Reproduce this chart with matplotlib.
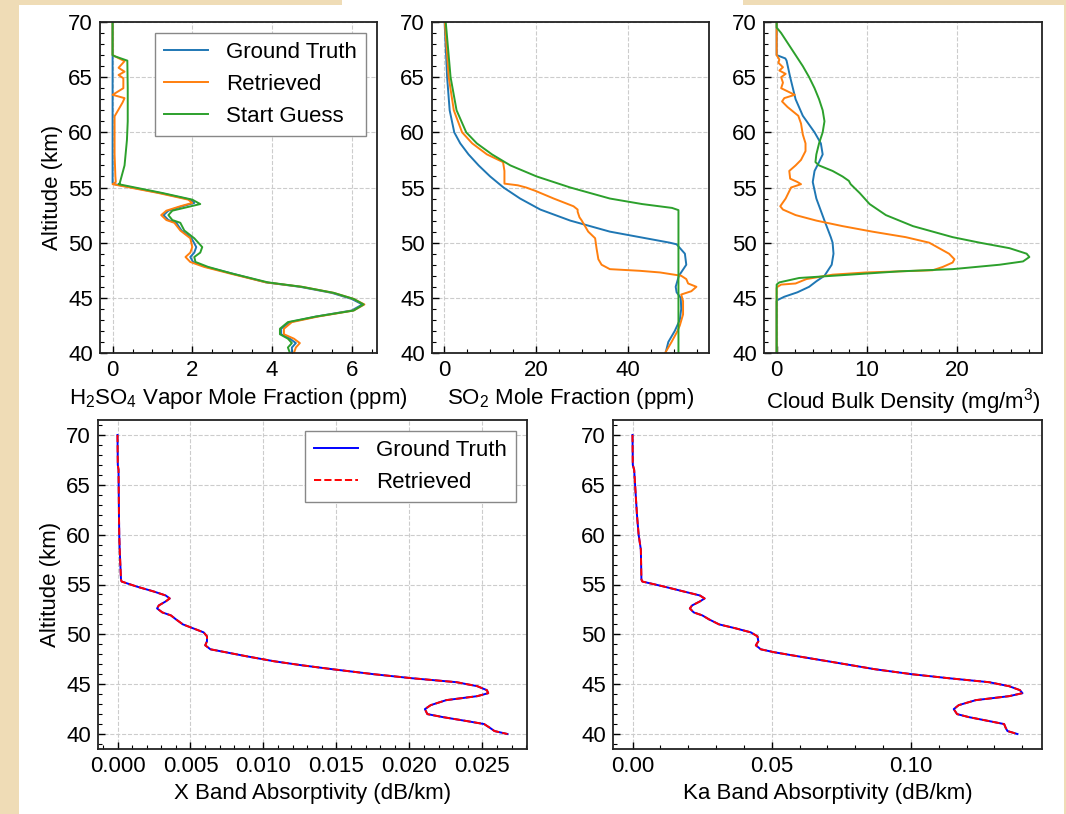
import matplotlib
matplotlib.use("Agg")
import matplotlib.pyplot as plt
from matplotlib.patches import Rectangle
from matplotlib.ticker import AutoMinorLocator, FormatStrFormatter

plt.rcParams['font.family'] = ['Liberation Sans', 'DejaVu Sans']
plt.rcParams['mathtext.default'] = 'regular'
plt.rcParams['font.size'] = 16

# --- H2SO4 vapour (ppm) ---
alt_h2so4_gt = [70.0, 55.4, 55.3, 54.5, 53.9, 53.6, 53.3, 52.9, 52.5, 52.05, 51.8, 51.1, 50.4, 49.6, 49.1,
                48.7, 48.25, 47.8, 47.2, 46.4, 46.0, 45.45, 44.9, 44.4, 43.85, 43.3, 42.8, 42.2, 41.7, 41.3,
                40.9, 40.5, 40.0]
h2so4_gt = [0.0, 0.0, 0.05, 1.2, 1.95, 2.05, 1.75, 1.4, 1.28, 1.4, 1.6, 1.73, 1.98, 2.1, 2.05,
            1.95, 2.02, 2.35, 3.0, 3.85, 4.7, 5.5, 6.0, 6.27, 6.0, 5.1, 4.45, 4.23, 4.23, 4.45,
            4.6, 4.5, 4.5]
alt_h2so4_ret = [70.0, 67.0, 66.45, 65.85, 65.5, 65.2, 64.9, 64.0, 63.4, 63.1, 62.7, 61.45, 58.0, 56.0,
                 55.5, 55.3, 54.5, 53.9, 53.6, 53.3, 52.9, 52.5, 52.05, 51.8, 51.1, 50.4, 49.6, 49.1,
                 48.7, 48.25, 47.8, 47.2, 46.4, 46.0, 45.45, 44.9, 44.4, 43.85, 43.3, 42.8, 42.2, 41.7,
                 41.3, 40.9, 40.5, 40.0]
h2so4_ret = [0.0, 0.0, 0.3, 0.15, 0.3, 0.15, 0.27, 0.27, 0.0, 0.3, 0.25, 0.05, 0.05, 0.07,
             0.08, 0.0, 1.15, 1.9, 2.0, 1.7, 1.35, 1.22, 1.35, 1.55, 1.7, 1.95, 2.0, 1.95,
             1.83, 1.95, 2.3, 2.95, 3.85, 4.75, 5.55, 6.05, 6.32, 6.05, 5.15, 4.5, 4.3, 4.3,
             4.55, 4.7, 4.6, 4.55]
alt_h2so4_sg = [70.0, 67.0, 66.9, 66.5, 64.0, 61.0, 59.3, 57.0, 55.4, 55.3, 54.5, 53.9, 53.5, 53.2,
                52.9, 52.5, 52.05, 51.8, 51.1, 50.4, 49.6, 49.1, 48.7, 48.25, 47.8, 47.2, 46.4, 46.0,
                45.45, 44.9, 44.4, 43.85, 43.3, 42.8, 42.2, 41.7, 41.3, 40.9, 40.5, 40.0]
h2so4_sg = [0.0, 0.0, 0.05, 0.37, 0.38, 0.38, 0.36, 0.3, 0.18, 0.15, 1.25, 2.0, 2.2, 1.85,
            1.5, 1.4, 1.5, 1.7, 1.8, 2.05, 2.25, 2.2, 2.05, 2.08, 2.4, 3.0, 3.9, 4.75,
            5.55, 6.05, 6.3, 6.05, 5.1, 4.4, 4.2, 4.2, 4.4, 4.5, 4.4, 4.45]

# --- SO2 (ppm) ---
alt_so2_gt = [70, 65, 62, 60, 59, 58, 57, 56, 55, 54, 53, 52, 51, 50.5, 50.0, 49.85, 49.0, 48.0,
              47.0, 46.0, 45.5, 45.0, 44.0, 43.0, 42.0, 41.0, 40.0]
so2_gt = [0.1, 0.65, 1.2, 2.2, 3.5, 5.3, 7.5, 10.0, 12.9, 16.5, 20.9, 27.4, 36.0, 42.5, 49.0, 50.5,
          52.3, 52.6, 51.0, 50.3, 50.5, 51.4, 51.5, 51.2, 50.1, 48.7, 48.1]
alt_so2_ret = [70, 65, 62, 60, 59, 58, 57.5, 57.3, 56.5, 55.35, 55.2, 55.0, 54.7, 54.0, 53.3, 53.0,
               52.8, 52.3, 52.0, 51.0, 50.4, 49.5, 48.5, 48.0, 47.6, 47.45, 47.3, 47.0, 46.7, 46.3,
               46.0, 45.6, 45.3, 44.7, 43.5, 42.5, 42.0, 41.0, 40.0]
so2_ret = [0.15, 1.0, 2.1, 3.9, 6.1, 9.3, 11.8, 12.8, 13.1, 13.1, 16.0, 17.8, 19.8, 23.8, 28.1, 29.0,
           29.0, 29.4, 29.9, 31.3, 32.8, 33.1, 33.5, 34.2, 36.0, 42.5, 46.9, 51.5, 52.6, 53.0,
           54.8, 53.7, 51.5, 51.9, 51.9, 51.2, 50.7, 49.4, 48.0]
alt_so2_sg = [70, 65, 62, 60, 59, 58, 57, 56, 55, 54, 53.5, 53.15, 52.95, 40.0]
so2_sg = [0.35, 1.4, 2.7, 4.8, 7.1, 10.4, 14.4, 20.1, 27.4, 36.0, 43.0, 49.5, 50.9, 50.9]

# --- cloud bulk density (mg/m3) ---
alt_cloud_gt = [70, 67.0, 66.7, 66.5, 65, 63, 61.5, 60, 59, 58, 57.3, 56.5, 55.5, 54, 52, 50.5, 50,
                49, 48, 47, 46.5, 46, 45.5, 45.1, 44.8, 44.7, 40]
cloud_gt = [0, 0, 0.96, 1.1, 1.5, 2.1, 2.9, 4.2, 4.9, 5.1, 4.7, 4.2, 4.0, 4.4, 5.3, 6.0, 6.2,
            6.3, 6.1, 5.3, 4.4, 3.6, 2.3, 0.85, 0.1, 0, 0]
alt_cloud_ret = [70, 67.0, 66.6, 66.3, 65.9, 65.6, 65.3, 65.0, 64.5, 64.0, 63.4, 63.1, 62.8, 62.3,
                 61.5, 60.8, 59.8, 59.0, 58.3, 57.5, 57.0, 56.5, 55.8, 55.5, 55.3, 55.0, 54.0, 53.3,
                 53.0, 52.5, 52.0, 51.5, 51.0, 50.5, 50.0, 49.5, 49.0, 48.5, 48.2, 47.8, 47.5, 47.3,
                 47.1, 46.7, 46.3, 46.2, 46.0, 45.9, 40]
cloud_ret = [0, 0, 0.3, 0.2, 0.7, 0.3, 1.0, 0.5, 0.7, 0.5, 2.0, 0.85, 0.6, 1.2,
             2.4, 2.7, 2.9, 3.2, 3.2, 2.7, 2.1, 1.4, 1.5, 2.3, 2.7, 1.6, 1.0, 0.4,
             0.7, 2.1, 4.4, 7.3, 10.6, 14.3, 16.9, 18.0, 19.1, 19.7, 19.5, 18.4, 17.3, 9.9,
             6.2, 3.3, 2.1, 0.5, 0.1, 0, 0]
alt_cloud_sg = [70, 69.5, 69, 68, 67, 66, 65, 64, 63, 62, 61, 60, 59, 58, 57.3, 57.0, 56.5, 56.0,
                55.6, 55.3, 54.5, 53.5, 52.5, 51.5, 50.5, 50.0, 49.5, 49.0, 48.7, 48.3, 48.0, 47.6,
                47.4, 47.1, 46.8, 46.4, 46.2, 40]
cloud_sg = [0, 0, 0.5, 1.3, 2.1, 2.9, 3.6, 4.2, 4.7, 5.1, 5.3, 5.1, 4.7, 4.4, 4.3, 4.7, 6.2, 7.3,
            8.0, 8.2, 9.2, 10.3, 12.1, 15.1, 19.5, 22.5, 25.8, 27.7, 28.0, 27.3, 24.7, 19.5,
            13.6, 8.1, 2.5, 0.3, 0, 0]

# --- absorptivity (dB/km) ---
alt_abs = [70.0, 67.0, 66.5, 62.0, 60.0, 58.5, 55.5, 55.3, 54.8, 54.3, 53.9, 53.6, 53.3, 52.9, 52.6,
           52.2, 51.9, 51.5, 51.0, 50.6, 50.2, 49.8, 49.3, 48.9, 48.5, 48.2, 47.8, 47.3, 46.9, 46.5,
           46.0, 45.6, 45.2, 44.8, 44.4, 44.1, 43.8, 43.4, 42.9, 42.5, 42.0, 41.7, 41.3, 41.0, 40.6,
           40.3, 40.0]
xband = [0.0, 0.00002, 0.00007, 0.0001, 0.00012, 0.00015, 0.00024, 0.00028, 0.0013, 0.00248, 0.0033,
         0.00358, 0.0033, 0.00283, 0.00271, 0.00307, 0.00366, 0.00401, 0.00448, 0.00519, 0.0059,
         0.00613, 0.00613, 0.00601, 0.00637, 0.00743, 0.00884, 0.01073, 0.01262, 0.01474, 0.01757,
         0.02017, 0.02323, 0.02465, 0.02531, 0.0254, 0.02465, 0.02252, 0.02146, 0.02106, 0.02123,
         0.02229, 0.02394, 0.02512, 0.02554, 0.02583, 0.02672]
kaband = [0.0, 0.0001, 0.0006, 0.0016, 0.0022, 0.003, 0.0032, 0.0035, 0.0112, 0.0184, 0.0242,
          0.0259, 0.0242, 0.0214, 0.0206, 0.022, 0.0251, 0.0275, 0.0311, 0.0371, 0.0425,
          0.0449, 0.0452, 0.0443, 0.0461, 0.051, 0.0594, 0.0702, 0.0787, 0.0871, 0.1004,
          0.1136, 0.1281, 0.1353, 0.1392, 0.1401, 0.1353, 0.1233, 0.1172, 0.1154, 0.1166,
          0.1208, 0.1281, 0.1335, 0.1341, 0.1347, 0.1383]

W, H = 1066, 814
fig = plt.figure(figsize=(W / 100, H / 100), dpi=100)
fig.patch.set_facecolor('#efdcb6')
fig.patches.append(Rectangle((19 / W, 0), 1045 / W, 809 / H, transform=fig.transFigure,
                             facecolor='white', edgecolor='none', zorder=-10))
fig.patches.append(Rectangle((342 / W, 0.98), 401 / W, 0.02, transform=fig.transFigure,
                             facecolor='white', edgecolor='none', zorder=-10))


def make_ax(l, t, r, b):
    ax = fig.add_axes([l / W, 1 - b / H, (r - l) / W, (b - t) / H])
    ax.tick_params(which='both', direction='in', top=False, right=False, labelsize=16, pad=5)
    ax.tick_params(which='major', length=5, width=1)
    ax.tick_params(which='minor', length=3, width=0.8)
    ax.xaxis.set_minor_locator(AutoMinorLocator())
    ax.yaxis.set_minor_locator(AutoMinorLocator())
    ax.grid(True, which='major', linestyle='--', color='#cccccc', linewidth=0.8)
    ax.set_axisbelow(True)
    for s in ax.spines.values():
        s.set_linewidth(1.3)
        s.set_color('#222222')
    return ax


ax1 = make_ax(100, 22, 377, 353)
ax2 = make_ax(432, 22, 709, 353)
ax3 = make_ax(764, 22, 1042, 353)
ax4 = make_ax(98, 420, 527, 749)
ax5 = make_ax(613, 420, 1042, 749)

lw = 1.4
ax1.plot(h2so4_gt, alt_h2so4_gt, color='C0', lw=lw, label='Ground Truth')
ax1.plot(h2so4_ret, alt_h2so4_ret, color='C1', lw=lw, label='Retrieved')
ax1.plot(h2so4_sg, alt_h2so4_sg, color='C2', lw=lw, label='Start Guess')
ax1.set_xlabel(r'H$_2$SO$_4$ Vapor Mole Fraction (ppm)', fontsize=16)
ax1.set_ylabel('Altitude (km)', fontsize=16)
ax1.legend(loc='upper right', fontsize=16, fancybox=False, edgecolor='#888888', framealpha=1)

ax2.plot(so2_gt, alt_so2_gt, color='C0', lw=lw)
ax2.plot(so2_ret, alt_so2_ret, color='C1', lw=lw)
ax2.plot(so2_sg, alt_so2_sg, color='C2', lw=lw)
ax2.set_xlabel(r'SO$_2$ Mole Fraction (ppm)', fontsize=16)

ax3.plot(cloud_gt, alt_cloud_gt, color='C0', lw=lw)
ax3.plot(cloud_ret, alt_cloud_ret, color='C1', lw=lw)
ax3.plot(cloud_sg, alt_cloud_sg, color='C2', lw=lw)
ax3.set_xlabel(r'Cloud Bulk Density (mg/m$^3$)', fontsize=16)

for ax in (ax1, ax2, ax3):
    ax.set_ylim(40, 70)
    ax.set_yticks([40, 45, 50, 55, 60, 65, 70])

ax1.set_xticks([0, 2, 4, 6])
ax2.set_xticks([0, 20, 40])
ax3.set_xticks([0, 10, 20])

ax4.plot(xband, alt_abs, color='blue', lw=lw, label='Ground Truth')
ax4.plot(xband, alt_abs, color='red', lw=lw, ls='--', label='Retrieved')
ax4.set_xlabel('X Band Absorptivity (dB/km)', fontsize=16)
ax4.set_ylabel('Altitude (km)', fontsize=16)
ax4.legend(loc='upper right', fontsize=16, fancybox=False, edgecolor='#888888', framealpha=1)
ax4.set_xticks([0.0, 0.005, 0.01, 0.015, 0.02, 0.025])
ax4.xaxis.set_major_formatter(FormatStrFormatter('%.3f'))

ax5.plot(kaband, alt_abs, color='blue', lw=lw)
ax5.plot(kaband, alt_abs, color='red', lw=lw, ls='--')
ax5.set_xlabel('Ka Band Absorptivity (dB/km)', fontsize=16)
ax5.set_xticks([0.0, 0.05, 0.1])
ax5.xaxis.set_major_formatter(FormatStrFormatter('%.2f'))

for ax in (ax4, ax5):
    ax.set_yticks([40, 45, 50, 55, 60, 65, 70])
    ax.xaxis.set_minor_locator(AutoMinorLocator(5))

fig.savefig('out.png', dpi=100, facecolor=fig.get_facecolor())
